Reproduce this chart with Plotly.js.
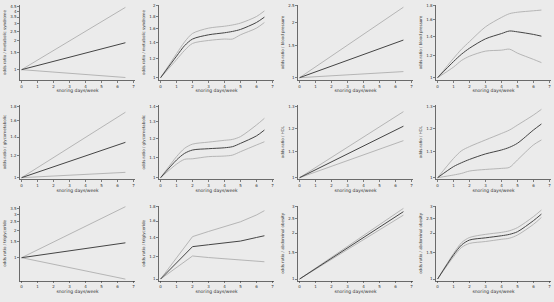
<!DOCTYPE html>
<html><head><meta charset="utf-8">
<script src="https://cdn.plot.ly/plotly-3.0.1.min.js"></script>
<style>html,body{margin:0;padding:0;background:#ebebeb;}#c{width:554px;height:302px;}</style>
</head><body><div id="c"></div>
<script>
// snoring days per week
const snoreDaysLinear = [0, 6.5];
const snoreDaysSpline = [0, 1, 1.5, 2, 3, 4, 4.5, 5, 6, 6.5];
const xTickVals = [0, 1, 2, 3, 4, 5, 6, 7];

// panel titles (y axis)
const yTitles = [
  'odds ratio / metabolic syndrome', 'odds ratio / metabolic syndrome',
  'odds ratio / blood pressure', 'odds ratio / blood pressure',
  'odds ratio / glycometabolic', 'odds ratio / glycometabolic',
  'odds ratio / HDL', 'odds ratio / HDL',
  'odds ratio / triglyceride', 'odds ratio / triglyceride',
  'odds ratio / abdominal obesity', 'odds ratio / abdominal obesity'
];
const xTitle = 'snoring days/week';

// y tick labels per panel
const yTicks1 = [1, 1.5, 2, 2.5, 3, 3.5, 4, 4.5];
const yTicks2 = [1, 1.2, 1.4, 1.6, 1.8, 2];
const yTicks3 = [1, 1.5, 2, 2.5];
const yTicks4 = [1, 1.2, 1.4, 1.6, 1.8];
const yTicks5 = [1, 1.2, 1.4, 1.6, 1.8];
const yTicks6 = [1, 1.1, 1.2, 1.3, 1.4];
const yTicks7 = [1, 1.1, 1.2, 1.3];
const yTicks8 = [1, 1.1, 1.2, 1.3];
const yTicks9 = [1, 1.5, 2, 2.5, 3, 3.5];
const yTicks10 = [1, 1.2, 1.4, 1.6, 1.8];
const yTicks11 = [1, 1.5, 2, 2.5, 3];
const yTicks12 = [1, 1.5, 2, 2.5, 3];

// odds ratios: mid = estimate, lo/hi = 95% CI
const metsynLinMid = [1, 1.90], metsynLinLo = [1, 0.83], metsynLinHi = [1, 4.41];
const metsynSplMid = [1, 1.23, 1.36, 1.45, 1.51, 1.54, 1.56, 1.59, 1.70, 1.79];
const metsynSplHi  = [1, 1.26, 1.41, 1.53, 1.61, 1.64, 1.66, 1.69, 1.80, 1.90];
const metsynSplLo  = [1, 1.19, 1.30, 1.39, 1.43, 1.45, 1.45, 1.51, 1.61, 1.70];

const bpLinMid = [1, 1.61], bpLinLo = [1, 1.08], bpLinHi = [1, 2.44];
const bpSplMid = [1, 1.14, 1.21, 1.27, 1.37, 1.43, 1.46, 1.45, 1.42, 1.40];
const bpSplHi  = [1, 1.17, 1.26, 1.34, 1.51, 1.63, 1.68, 1.70, 1.72, 1.73];
const bpSplLo  = [1, 1.09, 1.15, 1.19, 1.24, 1.25, 1.26, 1.22, 1.16, 1.13];

const gluLinMid = [1, 1.34], gluLinLo = [1, 1.045], gluLinHi = [1, 1.72];
const gluSplMid = [1, 1.087, 1.121, 1.139, 1.146, 1.151, 1.157, 1.175, 1.217, 1.251];
const gluSplHi  = [1, 1.104, 1.148, 1.171, 1.182, 1.192, 1.197, 1.213, 1.281, 1.322];
const gluSplLo  = [1, 1.066, 1.090, 1.093, 1.104, 1.107, 1.112, 1.130, 1.166, 1.184];

const hdlLinMid = [1, 1.21], hdlLinLo = [1, 1.147], hdlLinHi = [1, 1.277];
const hdlSplMid = [1, 1.042, 1.057, 1.070, 1.092, 1.108, 1.119, 1.136, 1.193, 1.22];
const hdlSplHi  = [1, 1.074, 1.105, 1.122, 1.150, 1.178, 1.193, 1.215, 1.261, 1.288];
const hdlSplLo  = [1, 1.010, 1.016, 1.025, 1.031, 1.035, 1.039, 1.068, 1.129, 1.150];

const tgLinMid = [1, 1.46], tgLinLo = [1, 0.58], tgLinHi = [1, 3.66];
const tgSplMid = [1, 1.14, 1.22, 1.30, 1.32, 1.34, 1.35, 1.36, 1.40, 1.42];
const tgSplHi  = [1, 1.19, 1.30, 1.41, 1.47, 1.53, 1.56, 1.59, 1.68, 1.74];
const tgSplLo  = [1, 1.10, 1.15, 1.205, 1.19, 1.18, 1.175, 1.17, 1.16, 1.15];

const aoLinMid = [1, 2.76], aoLinLo = [1, 2.62], aoLinHi = [1, 2.90];
const aoSplMid = [1, 1.44, 1.67, 1.80, 1.86, 1.92, 1.96, 2.04, 2.41, 2.66];
const aoSplHi  = [1, 1.47, 1.73, 1.87, 1.96, 2.02, 2.07, 2.17, 2.56, 2.83];
const aoSplLo  = [1, 1.40, 1.61, 1.71, 1.76, 1.82, 1.85, 1.94, 2.28, 2.53];

const panels = [
  {x: snoreDaysLinear, mid: metsynLinMid, lo: metsynLinLo, hi: metsynLinHi, ticks: yTicks1, shape: 'linear'},
  {x: snoreDaysSpline, mid: metsynSplMid, lo: metsynSplLo, hi: metsynSplHi, ticks: yTicks2, shape: 'spline'},
  {x: snoreDaysLinear, mid: bpLinMid, lo: bpLinLo, hi: bpLinHi, ticks: yTicks3, shape: 'linear'},
  {x: snoreDaysSpline, mid: bpSplMid, lo: bpSplLo, hi: bpSplHi, ticks: yTicks4, shape: 'spline'},
  {x: snoreDaysLinear, mid: gluLinMid, lo: gluLinLo, hi: gluLinHi, ticks: yTicks5, shape: 'linear'},
  {x: snoreDaysSpline, mid: gluSplMid, lo: gluSplLo, hi: gluSplHi, ticks: yTicks6, shape: 'spline'},
  {x: snoreDaysLinear, mid: hdlLinMid, lo: hdlLinLo, hi: hdlLinHi, ticks: yTicks7, shape: 'linear'},
  {x: snoreDaysSpline, mid: hdlSplMid, lo: hdlSplLo, hi: hdlSplHi, ticks: yTicks8, shape: 'spline'},
  {x: snoreDaysLinear, mid: tgLinMid, lo: tgLinLo, hi: tgLinHi, ticks: yTicks9, shape: 'linear'},
  {x: snoreDaysSpline, mid: tgSplMid, lo: tgSplLo, hi: tgSplHi, ticks: yTicks10, shape: 'linear'},
  {x: snoreDaysLinear, mid: aoLinMid, lo: aoLinLo, hi: aoLinHi, ticks: yTicks11, shape: 'linear'},
  {x: snoreDaysSpline, mid: aoSplMid, lo: aoSplLo, hi: aoSplHi, ticks: yTicks12, shape: 'spline'}
];

// layout geometry (pixels)
const W = 554, H = 302;
const colLeft = [20, 159, 298, 436];
const colWidth = 115;
const rowTop = [5, 105, 206];
const rowBottom = [80, 179.3, 280.7];
// y ranges (log10) per panel
const yRanges = [
  [-0.1068, 0.6688], [-0.0097, 0.3035], [-0.0128, 0.3995], [-0.0082, 0.2559],
  [-0.0059, 0.2615], [-0.0033, 0.1484], [-0.0026, 0.1169], [-0.0026, 0.1169],
  [-0.254, 0.571], [-0.006, 0.257], [-0.0111, 0.478], [-0.0111, 0.478]
];

const traces = [];
const layout = {
  width: W, height: H,
  margin: {l: 0, r: 0, t: 0, b: 0},
  paper_bgcolor: '#ebebeb', plot_bgcolor: '#ebebeb',
  showlegend: false,
  font: {family: 'DejaVu Sans, sans-serif', color: '#333', size: 4}
};

panels.forEach((p, i) => {
  const n = i + 1;
  const xa = n === 1 ? 'x' : 'x' + n;
  const ya = n === 1 ? 'y' : 'y' + n;
  const line = (c, w) => ({color: c, width: w, shape: p.shape, smoothing: 0.8});
  traces.push({x: p.x, y: p.hi, xaxis: xa, yaxis: ya, mode: 'lines', line: line('#ababab', 0.85), hoverinfo: 'skip'});
  traces.push({x: p.x, y: p.lo, xaxis: xa, yaxis: ya, mode: 'lines', line: line('#ababab', 0.85), hoverinfo: 'skip'});
  traces.push({x: p.x, y: p.mid, xaxis: xa, yaxis: ya, mode: 'lines', line: line('#444444', 1.0), hoverinfo: 'skip'});
  const col = i % 4, row = Math.floor(i / 4);
  const xk = n === 1 ? 'xaxis' : 'xaxis' + n;
  const yk = n === 1 ? 'yaxis' : 'yaxis' + n;
  layout[xk] = {
    domain: [colLeft[col] / W, (colLeft[col] + colWidth) / W],
    anchor: ya, range: [-0.1, 7.1],
    tickmode: 'array', tickvals: xTickVals,
    ticks: 'outside', ticklen: 2, tickwidth: 0.6, tickcolor: '#333',
    showline: true, linecolor: '#333', linewidth: 0.7,
    showgrid: false, zeroline: false,
    tickfont: {size: 4, color: '#333'},
    title: {text: xTitle, font: {size: 4.5, color: '#333'}, standoff: 1}
  };
  layout[yk] = {
    domain: [1 - rowBottom[row] / H, 1 - rowTop[row] / H],
    anchor: xa, type: 'log', range: yRanges[i],
    tickmode: 'array', tickvals: p.ticks, ticktext: p.ticks.map(String),
    ticks: 'outside', ticklen: 2, tickwidth: 0.6, tickcolor: '#333',
    showline: true, linecolor: '#333', linewidth: 0.7,
    showgrid: false, zeroline: false,
    tickfont: {size: 4, color: '#333'},
    title: {text: yTitles[i], font: {size: 4, color: '#333'}, standoff: 3}
  };
});

Plotly.newPlot('c', traces, layout, {staticPlot: true, displayModeBar: false});
</script>
</body></html>
